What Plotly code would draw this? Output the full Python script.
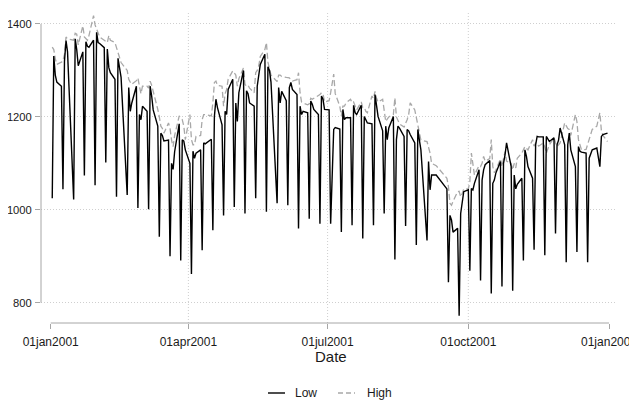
import pandas as pd
import plotly.graph_objects as go

# ---- data (S&P 500 style daily series, 2001) ----
HOLIDAYS = ["2001-01-01", "2001-01-15", "2001-02-19", "2001-04-13", "2001-05-28",
            "2001-07-04", "2001-09-03", "2001-09-11", "2001-09-12", "2001-09-13",
            "2001-09-14", "2001-11-22", "2001-12-25"]

low_jan = [1025, 1331, 1290, 1275, 1266, 1044, 1320, 1364, 1340, 1022, 1368, 1345, 1310, 1340, 1074, 1362, 1352, 1350, 1365, 1053, 1382]
low_feb = [1360, 1358, 1349, 1102, 1346, 1306, 1295, 1281, 1028, 1326, 1305, 1285, 1032, 1263, 1212, 1230, 1266, 1004, 1205]
low_mar = [1194, 1223, 1212, 1001, 1266, 1245, 1215, 1180, 942, 1165, 1160, 1148, 1150, 900, 1100, 1087, 1125, 1185, 891, 1151, 1148, 1129]
low_apr = [1100, 862, 1126, 1111, 1122, 1129, 913, 1144, 1142, 1152, 956, 1201, 1238, 1220, 1183, 988, 1212, 1205, 1259, 1281]
low_may = [1006, 1230, 1190, 1252, 1300, 992, 1256, 1250, 1230, 1223, 1025, 1266, 1288, 1313, 1335, 996, 1308, 1300, 1275, 1014, 1263, 1230]
low_jun = [1255, 1235, 1010, 1263, 1274, 1259, 1248, 960, 1223, 1205, 1212, 1209, 981, 1234, 1227, 1216, 1205, 970, 1245, 1238, 1216]
low_jul = [1215, 970, 1173, 1177, 1174, 952, 1216, 1194, 1198, 1198, 967, 1225, 1209, 1205, 1225, 938, 1201, 1194, 1187, 1185, 967]
low_aug = [1248, 1225, 1201, 1170, 992, 1180, 1151, 1176, 1201, 893, 1151, 1180, 1176, 1158, 965, 1173, 1170, 1162, 1144, 924, 1173, 1150, 1129]
low_sep = [934, 1104, 1043, 1075, 1075, 1045, 844, 988, 978, 952, 960, 772, 992, 1021, 1039]
low_oct = [1043, 869, 1046, 1043, 1057, 1086, 848, 1064, 1086, 1097, 1106, 820, 1057, 1064, 1079, 1104, 835, 1100, 1118, 1144, 1093, 826, 1075]
low_nov = [1045, 1055, 1068, 891, 1129, 1115, 1093, 1068, 914, 1140, 1158, 1157, 1157, 902, 1158, 1147, 1155, 949, 1140, 1150, 1176]
low_dec = [1140, 887, 1140, 1165, 1129, 1093, 909, 1136, 1126, 1124, 1122, 887, 1111, 1120, 1129, 1133, 1093, 1158, 1162, 1165]

high_jan = [1350, 1345, 1325, 1313, 1318, 1320, 1335, 1372, 1368, 1365, 1380, 1378, 1355, 1396, 1372, 1368, 1365, 1375, 1418, 1398, 1388]
high_feb = [1378, 1372, 1365, 1362, 1360, 1375, 1365, 1360, 1350, 1339, 1328, 1317, 1300, 1281, 1275, 1270, 1278, 1284, 1266]
high_mar = [1250, 1266, 1266, 1262, 1277, 1268, 1256, 1216, 1200, 1180, 1175, 1165, 1187, 1175, 1150, 1136, 1160, 1202, 1198, 1194, 1180, 1151]
high_apr = [1205, 1151, 1140, 1140, 1158, 1160, 1194, 1205, 1205, 1202, 1230, 1274, 1277, 1268, 1266, 1223, 1250, 1259, 1281, 1299]
high_may = [1295, 1290, 1266, 1282, 1305, 1270, 1266, 1268, 1262, 1252, 1295, 1300, 1310, 1330, 1345, 1360, 1318, 1305, 1290, 1276, 1290, 1290]
high_jun = [1287, 1285, 1284, 1284, 1280, 1277, 1280, 1295, 1252, 1232, 1230, 1226, 1228, 1240, 1238, 1240, 1245, 1248, 1252, 1250, 1232]
high_jul = [1235, 1252, 1292, 1250, 1223, 1202, 1223, 1223, 1230, 1238, 1230, 1232, 1223, 1215, 1232, 1220, 1220, 1212, 1209, 1245, 1240]
high_aug = [1255, 1240, 1232, 1238, 1215, 1190, 1195, 1200, 1205, 1241, 1200, 1194, 1185, 1178, 1185, 1194, 1205, 1230, 1215, 1200, 1187, 1165, 1150]
high_sep = [1147, 1135, 1122, 1100, 1095, 1068, 1050, 1014, 1010, 1018, 1039, 1040, 1028, 1035, 1045]
high_oct = [1045, 1060, 1122, 1100, 1075, 1095, 1093, 1100, 1115, 1105, 1110, 1151, 1093, 1080, 1085, 1110, 1093, 1110, 1125, 1105, 1100, 1086, 1100]
high_nov = [1090, 1111, 1122, 1130, 1136, 1132, 1129, 1151, 1137, 1144, 1143, 1137, 1144, 1135, 1122, 1140, 1155, 1145, 1136, 1140, 1144]
high_dec = [1187, 1180, 1175, 1173, 1160, 1205, 1190, 1151, 1140, 1129, 1130, 1140, 1155, 1165, 1173, 1180, 1209, 1170, 1160, 1147]

tick_dates = ["2001-01-01", "2001-04-01", "2001-07-01", "2001-10-01", "2002-01-01"]
tick_text = ["01jan2001", "01apr2001", "01jul2001", "01oct2001", "01jan2002"]
y_ticks = [800, 1000, 1200, 1400]

low_months = [low_jan, low_feb, low_mar, low_apr, low_may, low_jun, low_jul, low_aug, low_sep, low_oct, low_nov, low_dec]
high_months = [high_jan, high_feb, high_mar, high_apr, high_may, high_jun, high_jul, high_aug, high_sep, high_oct, high_nov, high_dec]

days = pd.bdate_range("2001-01-01", "2001-12-31")
days = days[~days.isin(pd.to_datetime(HOLIDAYS))]
dates, low, high = [], [], []
for m in range(12):
    d = days[days.month == m + 1]
    assert len(d) == len(low_months[m]) == len(high_months[m]), (m + 1, len(d), len(low_months[m]), len(high_months[m]))
    dates += list(d)
    low += low_months[m]
    high += high_months[m]

# ---- layout geometry (page body has an 8px margin) ----
OFF = 8
W, H = 637 - OFF, 400 - OFF
# plot area in screen pixels: x 41..617, y 12..323
ML, MT = 41 - OFF, 12 - OFF
MR, MB = W - (617 - OFF), H - (323 - OFF)
PW = W - ML - MR
PH = H - MT - MB
AXC = "#a6a6a6"
GRIDC = "#cfcfcf"
GRIDDASH = "1px,2px"
TXT = "#1a1a1a"
FONT = "Liberation Sans, Arial, sans-serif"

x0 = pd.Timestamp("2001-01-01") - pd.Timedelta(days=6.35)
x1 = pd.Timestamp("2002-01-01") + pd.Timedelta(days=5.2)

fig = go.Figure()
fig.add_trace(go.Scatter(x=dates, y=high, mode="lines", name="High",
                         line=dict(color="#a8a8a8", width=1.3, dash="6px,3px")))
fig.add_trace(go.Scatter(x=dates, y=low, mode="lines", name="Low",
                         line=dict(color="#000000", width=1.4)))

shapes = []
shapes.append(dict(type="line", xref="paper", yref="y", x0=0, x1=0, y0=800, y1=1400,
                   line=dict(color=AXC, width=1)))
shapes.append(dict(type="line", xref="x", yref="paper", x0=tick_dates[0], x1=tick_dates[-1], y0=0, y1=0,
                   line=dict(color=AXC, width=1)))
for d in tick_dates[1:-1]:
    shapes.append(dict(type="line", xref="x", yref="paper", x0=d, x1=d, y0=0, y1=1,
                       line=dict(color=GRIDC, width=1, dash=GRIDDASH), layer="below"))


def px2paper(px):
    return (px - OFF - ML) / PW


def py2paper(py):
    return (H - MB - (py - OFF)) / PH


ly = py2paper(393)
shapes.append(dict(type="line", xref="paper", yref="paper", x0=px2paper(268), x1=px2paper(285), y0=ly, y1=ly,
                   line=dict(color="#000000", width=1.4)))
shapes.append(dict(type="line", xref="paper", yref="paper", x0=px2paper(338), x1=px2paper(355), y0=ly, y1=ly,
                   line=dict(color="#a8a8a8", width=1.3, dash="5px,3px")))

annotations = [
    dict(text="Date", xref="paper", yref="paper", x=px2paper(331), y=py2paper(356), showarrow=False,
         xanchor="center", yanchor="middle", font=dict(size=15, color=TXT, family=FONT)),
    dict(text="Low", xref="paper", yref="paper", x=px2paper(293), y=ly, showarrow=False,
         xanchor="left", yanchor="middle", font=dict(size=12, color=TXT, family=FONT)),
    dict(text="High", xref="paper", yref="paper", x=px2paper(365), y=ly, showarrow=False,
         xanchor="left", yanchor="middle", font=dict(size=12, color=TXT, family=FONT)),
]

fig.update_layout(
    width=W, height=H, autosize=False,
    margin=dict(l=ML, r=MR, t=MT, b=MB, pad=0, autoexpand=False),
    paper_bgcolor="white", plot_bgcolor="white",
    showlegend=False,
    font=dict(family=FONT, size=12, color=TXT),
    shapes=shapes, annotations=annotations,
    xaxis=dict(type="date", range=[x0, x1], tickmode="array", tickvals=tick_dates, ticktext=tick_text,
               ticks="outside", ticklen=5, tickcolor=AXC, tickwidth=1, showgrid=False, automargin=False,
               ticklabeloverflow="allow", ticklabelstandoff=3,
               showline=False, zeroline=False, tickfont=dict(size=12, color=TXT, family=FONT)),
    yaxis=dict(range=[756.3, 1425.8], tickmode="array", tickvals=y_ticks, automargin=False,
               ticks="outside", ticklen=5, tickcolor=AXC, tickwidth=1, ticklabelstandoff=1,
               ticklabeloverflow="allow",
               showgrid=True, gridcolor=GRIDC, griddash=GRIDDASH, gridwidth=1,
               showline=False, zeroline=False, tickfont=dict(size=11.2, color=TXT, family=FONT)),
)

fig.write_html("out.html")
